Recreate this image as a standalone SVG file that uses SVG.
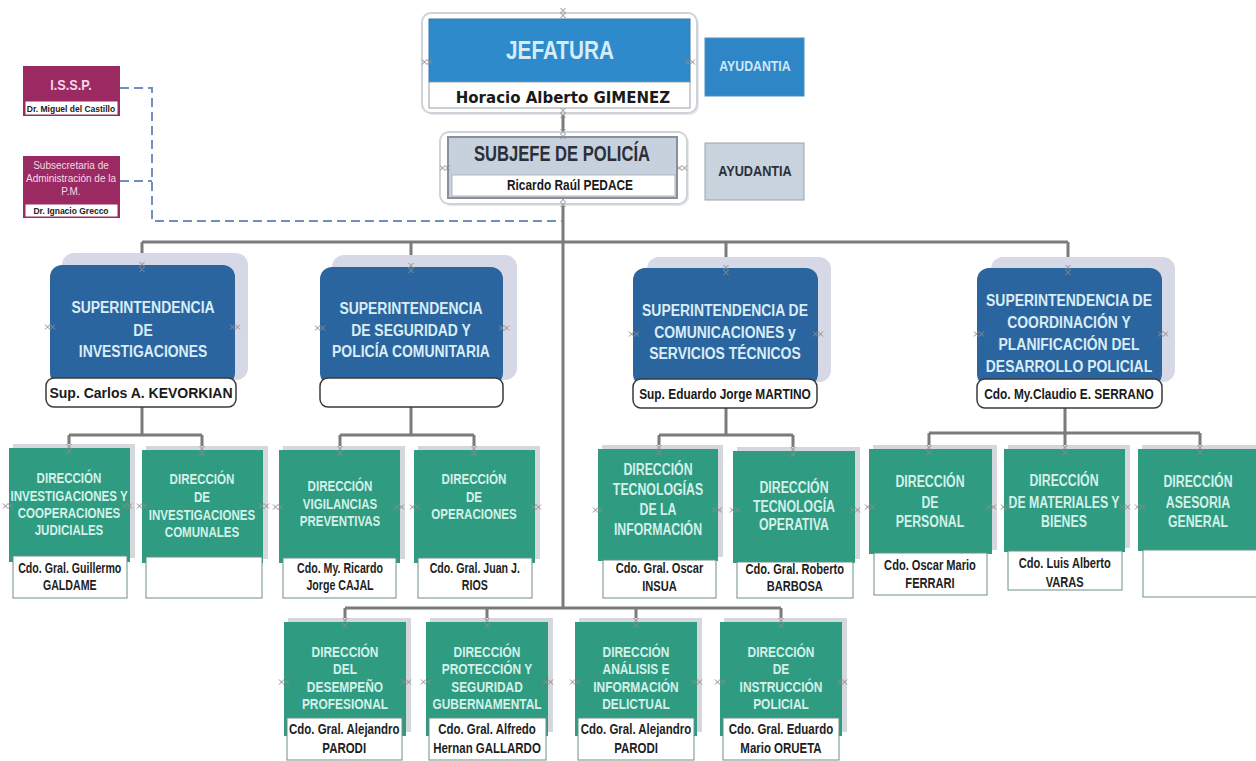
<svg xmlns="http://www.w3.org/2000/svg" xmlns:xlink="http://www.w3.org/1999/xlink" width="1256" height="761" viewBox="0 0 1256 761">
<style>
.conn{stroke:#7b7b7b;stroke-width:3;fill:none}
.dash{stroke:#7090c0;stroke-width:2;stroke-dasharray:9 5;fill:none}
.shd{fill:#d4d8dc}
.grn{fill:#2f9b80}
.nmbox{fill:#fff;stroke:#6f8f88;stroke-width:1}
.sshd{fill:#d7d8e6}
.sup{fill:#2b65a0}
.snm{fill:#fff;stroke:#3a3a3a;stroke-width:1.5}
.n{font-family:"Liberation Sans Narrow","Arial Narrow","Liberation Sans",Arial,sans-serif;font-weight:bold;text-anchor:middle}
.dt{font-size:15px;fill:#d3f1e9}
.dt2{font-size:16px;fill:#d3f1e9}
.dn{font-size:13.8px;fill:#1e1e1e}
.dn2{font-size:14.4px;fill:#1e1e1e}
.bt{font-size:15.5px;fill:#d3f1e9}
.bn{font-size:14.9px;fill:#1e1e1e}
.st{font-size:17px;fill:#d9edf7}
.sn{font-size:14.5px;fill:#1a1a1a}
.kv{font-family:"Liberation Sans",Arial,sans-serif;font-weight:bold;font-size:14px;text-anchor:middle;fill:#1a1a1a}
.cp{stroke:#8c8c8c;stroke-width:1;fill:none}
.mag{fill:#9c2a62}
.mt{font-family:"Liberation Sans",Arial,sans-serif;text-anchor:middle;fill:#f4d8e6;font-size:10px}
.mn{font-family:"Liberation Sans",Arial,sans-serif;font-weight:bold;text-anchor:middle;fill:#222;font-size:8.5px}
</style>
<defs>
<g id="xh" class="cp"><path d="M-5,-2.5 L0,2.5 M-5,2.5 L0,-2.5 M0,-2.5 L5,2.5 M0,2.5 L5,-2.5"/></g>
<g id="xv" class="cp"><path d="M-2.5,-5 L2.5,0 M2.5,-5 L-2.5,0 M-2.5,0 L2.5,5 M2.5,0 L-2.5,5"/></g>
</defs>
<rect x="0" y="0" width="1256" height="761" fill="#fff"/>

<g id="connectors">
<path class="dash" d="M120,88 H152 V221 H562 M120,181 H152"/>
<path class="conn" d="M563,108 V137"/>
<path class="conn" d="M563,198 V608"/>
<path class="conn" d="M142,242 H1068 M142,242 V265 M411,242 V267 M726,242 V268 M1068,242 V268"/>
<path class="conn" d="M142,407 V435 M69,435 H202 M69,435 V448 M202,435 V450"/>
<path class="conn" d="M411,407 V435 M340,435 H474 M340,435 V450 M474,435 V450"/>
<path class="conn" d="M726,408 V435 M659,435 H793 M659,435 V449 M793,435 V451"/>
<path class="conn" d="M1065,408 V433 M929,433 H1200 M929,433 V449 M1065,433 V449 M1200,433 V449"/>
<path class="conn" d="M345,608 H781 M345,608 V622 M487,608 V622 M636,608 V622 M781,608 V622"/>
</g>

<g id="jefatura">
<rect x="424" y="15" width="275" height="100" rx="9" fill="#e6e8eb"/>
<rect x="422" y="13" width="275" height="100" rx="9" fill="#fff" stroke="#cfd3d8" stroke-width="2"/>
<rect x="429" y="19" width="261" height="63" fill="#2f8acb" stroke="#3a78a8" stroke-width="1"/>
<rect x="429" y="82" width="261" height="26" fill="#fff" stroke="#9aa0a6" stroke-width="1"/>
<g transform="matrix(.83 0 0 1 95.2 0)"><text class="n" x="560" y="59" font-size="25" fill="#d3ecf8">JEFATURA</text></g>
<text x="563" y="103" font-family="DejaVu Sans,Verdana,sans-serif" font-weight="bold" font-size="15" text-anchor="middle" fill="#1a1a1a">Horacio Alberto GIMENEZ</text>
</g>

<g id="ayudantia-1">
<rect x="705" y="38" width="99" height="58" fill="#2f86c6" stroke="#4a8fc0" stroke-width="1"/>
<g transform="matrix(.82 0 0 1 135.9 0)"><text class="n" x="755" y="71" font-size="15" fill="#cfe8f6">AYUDANTIA</text></g>
</g>

<g id="subjefe">
<rect x="442" y="134" width="247" height="72" rx="9" fill="#e6e8eb"/>
<rect x="440" y="132" width="247" height="72" rx="9" fill="#fff" stroke="#cfd3d8" stroke-width="2"/>
<rect x="448" y="137" width="229" height="61" fill="#c6d1dd" stroke="#8a9099" stroke-width="2"/>
<rect x="452" y="175" width="223" height="21" fill="#fff" stroke="#b0b6bd" stroke-width="1"/>
<text class="n" x="562" y="161" font-size="22" fill="#2b2f38" textLength="176" lengthAdjust="spacingAndGlyphs">SUBJEFE DE POLICÍA</text>
<g transform="matrix(.82 0 0 1 102.6 0)"><text class="n" x="570" y="190" font-size="14.5" fill="#1a1a1a">Ricardo Raúl PEDACE</text></g>
</g>

<g id="ayudantia-2">
<rect x="705" y="143" width="99" height="57" fill="#c8d3de" stroke="#9aa3ad" stroke-width="1"/>
<g transform="matrix(.82 0 0 1 135.9 0)"><text class="n" x="755" y="176" font-size="15.5" fill="#2b2f38">AYUDANTIA</text></g>
</g>

<g id="issp">
<rect class="mag" x="23" y="66" width="97" height="50"/>
<rect x="25" y="101" width="93" height="14" fill="#fff" stroke="#9c2a62" stroke-width="1"/>
<g transform="matrix(.85 0 0 1 10.65 0)"><text class="n" x="71" y="90" font-size="15" font-weight="normal" fill="#f4d8e6">I.S.S.P.</text></g>
<text class="mn" x="71" y="111.5">Dr. Miguel del Castillo</text>
</g>

<g id="subsecretaria">
<rect class="mag" x="23" y="156" width="97" height="62"/>
<rect x="25" y="204" width="93" height="13" fill="#fff" stroke="#9c2a62" stroke-width="1"/>
<text class="mt" x="71" y="168.5">Subsecretaria de</text>
<text class="mt" x="71" y="181.5">Administración de la</text>
<text class="mt" x="71" y="194.5">P.M.</text>
<text class="mn" x="71" y="213.5">Dr. Ignacio Grecco</text>
</g>

<g id="sup-investigaciones">
<rect class="sshd" x="62" y="253" width="186" height="127" rx="12"/>
<rect class="sup" x="50" y="265" width="185" height="120" rx="12"/>
<rect class="snm" x="46" y="378" width="190" height="29" rx="8"/>
<g transform="matrix(.82 0 0 1 25.74 0)">
<text class="n st" x="143" y="313">SUPERINTENDENCIA</text>
<text class="n st" x="143" y="336">DE</text>
<text class="n st" x="143" y="357">INVESTIGACIONES</text>
</g>
<text class="kv" x="141" y="398">Sup. Carlos A. KEVORKIAN</text>
</g>

<g id="sup-seguridad">
<rect class="sshd" x="332" y="255" width="185" height="125" rx="12"/>
<rect class="sup" x="320" y="267" width="183" height="118" rx="12"/>
<rect class="snm" x="320" y="378" width="183" height="29" rx="8"/>
<g transform="matrix(.82 0 0 1 73.98 0)">
<text class="n st" x="411" y="314">SUPERINTENDENCIA</text>
<text class="n st" x="411" y="336">DE SEGURIDAD Y</text>
<text class="n st" x="411" y="357">POLICÍA COMUNITARIA</text>
</g>
</g>

<g id="sup-comunicaciones">
<rect class="sshd" x="647" y="257" width="184" height="125" rx="12"/>
<rect class="sup" x="633" y="268" width="185" height="118" rx="12"/>
<rect class="snm" x="633" y="379" width="184" height="29" rx="8"/>
<g transform="matrix(.82 0 0 1 130.5 0)">
<text class="n st" x="725" y="316">SUPERINTENDENCIA DE</text>
<text class="n st" x="725" y="338">COMUNICACIONES y</text>
<text class="n st" x="725" y="359">SERVICIOS TÉCNICOS</text>
<text class="n sn" x="725" y="399">Sup. Eduardo Jorge MARTINO</text>
</g>
</g>

<g id="sup-coordinacion">
<rect class="sshd" x="991" y="257" width="184" height="125" rx="12"/>
<rect class="sup" x="977" y="268" width="185" height="118" rx="12"/>
<rect class="snm" x="977" y="379" width="185" height="29" rx="8"/>
<g transform="matrix(.82 0 0 1 192.42 0)">
<text class="n st" x="1069" y="306">SUPERINTENDENCIA DE</text>
<text class="n st" x="1069" y="328">COORDINACIÓN Y</text>
<text class="n st" x="1069" y="350">PLANIFICACIÓN DEL</text>
<text class="n st" x="1069" y="372">DESARROLLO POLICIAL</text>
<text class="n sn" x="1069" y="399">Cdo. My.Claudio E. SERRANO</text>
</g>
</g>

<g id="dir-investigaciones-cooperaciones">
<rect class="shd" x="13" y="444" width="122" height="114"/>
<rect class="grn" x="9" y="448" width="121" height="114"/>
<rect class="nmbox" x="13" y="556" width="114" height="42"/>
<g transform="matrix(.77 0 0 1 15.87 0)">
<text class="n dt" x="69" y="483">DIRECCIÓN</text>
<text class="n dt" x="69" y="501">INVESTIGACIONES Y</text>
<text class="n dt" x="69" y="518">COOPERACIONES</text>
<text class="n dt" x="69" y="535">JUDICIALES</text>
<text class="n dn" x="70" y="573">Cdo. Gral. Guillermo</text>
<text class="n dn" x="70" y="590">GALDAME</text>
</g>
</g>

<g id="dir-investigaciones-comunales">
<rect class="shd" x="146" y="446" width="122" height="113"/>
<rect class="grn" x="142" y="450" width="121" height="113"/>
<rect class="nmbox" x="146" y="557" width="116" height="41"/>
<g transform="matrix(.77 0 0 1 46.46 0)">
<text class="n dt" x="202" y="484">DIRECCIÓN</text>
<text class="n dt" x="202" y="502">DE</text>
<text class="n dt" x="202" y="520">INVESTIGACIONES</text>
<text class="n dt" x="202" y="537">COMUNALES</text>
</g>
</g>

<g id="dir-vigilancias">
<rect class="shd" x="283" y="446" width="122" height="113"/>
<rect class="grn" x="279" y="450" width="121" height="113"/>
<rect class="nmbox" x="283" y="558" width="113" height="40"/>
<g transform="matrix(.77 0 0 1 78.2 0)">
<text class="n dt" x="340" y="491">DIRECCIÓN</text>
<text class="n dt" x="340" y="509">VIGILANCIAS</text>
<text class="n dt" x="340" y="526">PREVENTIVAS</text>
<text class="n dn" x="340" y="573">Cdo. My. Ricardo</text>
<text class="n dn" x="340" y="590">Jorge CAJAL</text>
</g>
</g>

<g id="dir-operaciones">
<rect class="shd" x="418" y="446" width="122" height="113"/>
<rect class="grn" x="414" y="450" width="121" height="113"/>
<rect class="nmbox" x="418" y="558" width="114" height="40"/>
<g transform="matrix(.77 0 0 1 109.02 0)">
<text class="n dt" x="474" y="484">DIRECCIÓN</text>
<text class="n dt" x="474" y="502">DE</text>
<text class="n dt" x="474" y="519">OPERACIONES</text>
<text class="n dn" x="475" y="573">Cdo. Gral. Juan J.</text>
<text class="n dn" x="475" y="590">RIOS</text>
</g>
</g>

<g id="dir-tecnologias-informacion">
<rect class="shd" x="602" y="445" width="121" height="112"/>
<rect class="grn" x="598" y="449" width="120" height="112"/>
<rect class="nmbox" x="603" y="560" width="113" height="38"/>
<g transform="matrix(.77 0 0 1 151.34 0)">
<text class="n dt2" x="658" y="475">DIRECCIÓN</text>
<text class="n dt2" x="658" y="495">TECNOLOGÍAS</text>
<text class="n dt2" x="658" y="515">DE LA</text>
<text class="n dt2" x="658" y="535">INFORMACIÓN</text>
<text class="n dn2" x="660" y="573">Cdo. Gral. Oscar</text>
<text class="n dn2" x="660" y="591">INSUA</text>
</g>
</g>

<g id="dir-tecnologia-operativa">
<rect class="shd" x="737" y="447" width="123" height="112"/>
<rect class="grn" x="733" y="451" width="122" height="112"/>
<rect class="nmbox" x="737" y="562" width="116" height="36"/>
<g transform="matrix(.77 0 0 1 182.62 0)">
<text class="n dt2" x="794" y="493">DIRECCIÓN</text>
<text class="n dt2" x="794" y="512">TECNOLOGÍA</text>
<text class="n dt2" x="794" y="530">OPERATIVA</text>
<text class="n dn2" x="795" y="574">Cdo. Gral. Roberto</text>
<text class="n dn2" x="795" y="591">BARBOSA</text>
</g>
</g>

<g id="dir-personal">
<rect class="shd" x="873" y="445" width="124" height="105"/>
<rect class="grn" x="869" y="449" width="123" height="105"/>
<rect class="nmbox" x="874" y="553" width="113" height="42"/>
<g transform="matrix(.77 0 0 1 213.9 0)">
<text class="n dt2" x="930" y="487">DIRECCIÓN</text>
<text class="n dt2" x="930" y="508">DE</text>
<text class="n dt2" x="930" y="527">PERSONAL</text>
<text class="n dn2" x="930" y="570">Cdo.  Oscar Mario</text>
<text class="n dn2" x="930" y="588">FERRARI</text>
</g>
</g>

<g id="dir-materiales">
<rect class="shd" x="1008" y="445" width="122" height="103"/>
<rect class="grn" x="1004" y="449" width="121" height="103"/>
<rect class="nmbox" x="1008" y="551" width="114" height="39"/>
<g transform="matrix(.77 0 0 1 244.72 0)">
<text class="n dt2" x="1064" y="486">DIRECCIÓN</text>
<text class="n dt2" x="1064" y="508">DE MATERIALES Y</text>
<text class="n dt2" x="1064" y="527">BIENES</text>
<text class="n dn2" x="1065" y="568">Cdo. Luis Alberto</text>
<text class="n dn2" x="1065" y="587">VARAS</text>
</g>
</g>

<g id="dir-asesoria">
<rect class="shd" x="1142" y="445" width="114" height="102"/>
<rect class="grn" x="1138" y="449" width="118" height="102"/>
<rect class="nmbox" x="1143" y="550" width="118" height="47"/>
<g transform="matrix(.77 0 0 1 275.54 0)">
<text class="n dt2" x="1198" y="487">DIRECCIÓN</text>
<text class="n dt2" x="1198" y="508">ASESORIA</text>
<text class="n dt2" x="1198" y="527">GENERAL</text>
</g>
</g>

<g id="dir-desempeno">
<rect class="shd" x="288" y="618" width="123" height="114"/>
<rect class="grn" x="284" y="622" width="122" height="114"/>
<rect class="nmbox" x="287" y="718" width="115" height="42"/>
<g transform="matrix(.77 0 0 1 79.35 0)">
<text class="n bt" x="345" y="657">DIRECCIÓN</text>
<text class="n bt" x="345" y="674">DEL</text>
<text class="n bt" x="345" y="692">DESEMPEÑO</text>
<text class="n bt" x="345" y="709">PROFESIONAL</text>
<text class="n bn" x="344" y="734">Cdo. Gral. Alejandro</text>
<text class="n bn" x="344" y="753">PARODI</text>
</g>
</g>

<g id="dir-proteccion">
<rect class="shd" x="430" y="618" width="123" height="114"/>
<rect class="grn" x="426" y="622" width="122" height="114"/>
<rect class="nmbox" x="429" y="718" width="117" height="42"/>
<g transform="matrix(.77 0 0 1 112.01 0)">
<text class="n bt" x="487" y="657">DIRECCIÓN</text>
<text class="n bt" x="487" y="674">PROTECCIÓN Y</text>
<text class="n bt" x="487" y="692">SEGURIDAD</text>
<text class="n bt" x="487" y="709">GUBERNAMENTAL</text>
<text class="n bn" x="487" y="734">Cdo. Gral. Alfredo</text>
<text class="n bn" x="487" y="753">Hernan GALLARDO</text>
</g>
</g>

<g id="dir-analisis">
<rect class="shd" x="579" y="618" width="123" height="114"/>
<rect class="grn" x="575" y="622" width="122" height="114"/>
<rect class="nmbox" x="578" y="718" width="116" height="42"/>
<g transform="matrix(.77 0 0 1 146.28 0)">
<text class="n bt" x="636" y="657">DIRECCIÓN</text>
<text class="n bt" x="636" y="674">ANÁLISIS E</text>
<text class="n bt" x="636" y="692">INFORMACIÓN</text>
<text class="n bt" x="636" y="709">DELICTUAL</text>
<text class="n bn" x="636" y="734">Cdo. Gral. Alejandro</text>
<text class="n bn" x="636" y="753">PARODI</text>
</g>
</g>

<g id="dir-instruccion">
<rect class="shd" x="724" y="618" width="123" height="114"/>
<rect class="grn" x="720" y="622" width="122" height="114"/>
<rect class="nmbox" x="723" y="718" width="116" height="42"/>
<g transform="matrix(.77 0 0 1 179.63 0)">
<text class="n bt" x="781" y="657">DIRECCIÓN</text>
<text class="n bt" x="781" y="674">DE</text>
<text class="n bt" x="781" y="692">INSTRUCCIÓN</text>
<text class="n bt" x="781" y="709">POLICIAL</text>
<text class="n bn" x="781" y="734">Cdo. Gral. Eduardo</text>
<text class="n bn" x="781" y="753">Mario ORUETA</text>
</g>
</g>

<g id="connection-points">
<use href="#xv" x="563" y="13"/><use href="#xh" x="427" y="62"/><use href="#xh" x="690" y="62"/><use href="#xv" x="563" y="113"/>
<use href="#xv" x="563" y="134"/><use href="#xh" x="445" y="168"/><use href="#xh" x="682" y="168"/><use href="#xv" x="563" y="202"/>
<use href="#xv" x="142" y="267"/><use href="#xh" x="50" y="327"/><use href="#xh" x="235" y="327"/>
<use href="#xv" x="411" y="268"/><use href="#xh" x="320" y="328"/><use href="#xh" x="504" y="328"/>
<use href="#xv" x="726" y="270"/><use href="#xh" x="634" y="334"/><use href="#xh" x="818" y="334"/>
<use href="#xv" x="1068" y="270"/><use href="#xh" x="979" y="334"/><use href="#xh" x="1163" y="334"/>
<use href="#xv" x="69" y="449"/><use href="#xh" x="8" y="506"/><use href="#xh" x="127" y="506"/>
<use href="#xv" x="202" y="451"/><use href="#xh" x="142" y="506"/><use href="#xh" x="264" y="506"/>
<use href="#xv" x="340" y="451"/><use href="#xh" x="278" y="507"/><use href="#xh" x="399" y="507"/>
<use href="#xv" x="474" y="451"/><use href="#xh" x="415" y="507"/><use href="#xh" x="536" y="507"/>
<use href="#xv" x="659" y="450"/><use href="#xh" x="598" y="510"/><use href="#xh" x="717" y="510"/>
<use href="#xv" x="793" y="452"/><use href="#xh" x="735" y="510"/><use href="#xh" x="855" y="510"/>
<use href="#xv" x="929" y="450"/><use href="#xh" x="870" y="507"/><use href="#xh" x="991" y="507"/>
<use href="#xv" x="1065" y="450"/><use href="#xh" x="1006" y="507"/><use href="#xh" x="1125" y="507"/>
<use href="#xv" x="1200" y="450"/><use href="#xh" x="1140" y="507"/>
<use href="#xv" x="345" y="623"/><use href="#xh" x="284" y="682"/><use href="#xh" x="406" y="682"/>
<use href="#xv" x="487" y="623"/><use href="#xh" x="426" y="682"/><use href="#xh" x="548" y="682"/>
<use href="#xv" x="636" y="623"/><use href="#xh" x="575" y="682"/><use href="#xh" x="697" y="682"/>
<use href="#xv" x="781" y="623"/><use href="#xh" x="720" y="682"/><use href="#xh" x="842" y="682"/>
</g>
</svg>
